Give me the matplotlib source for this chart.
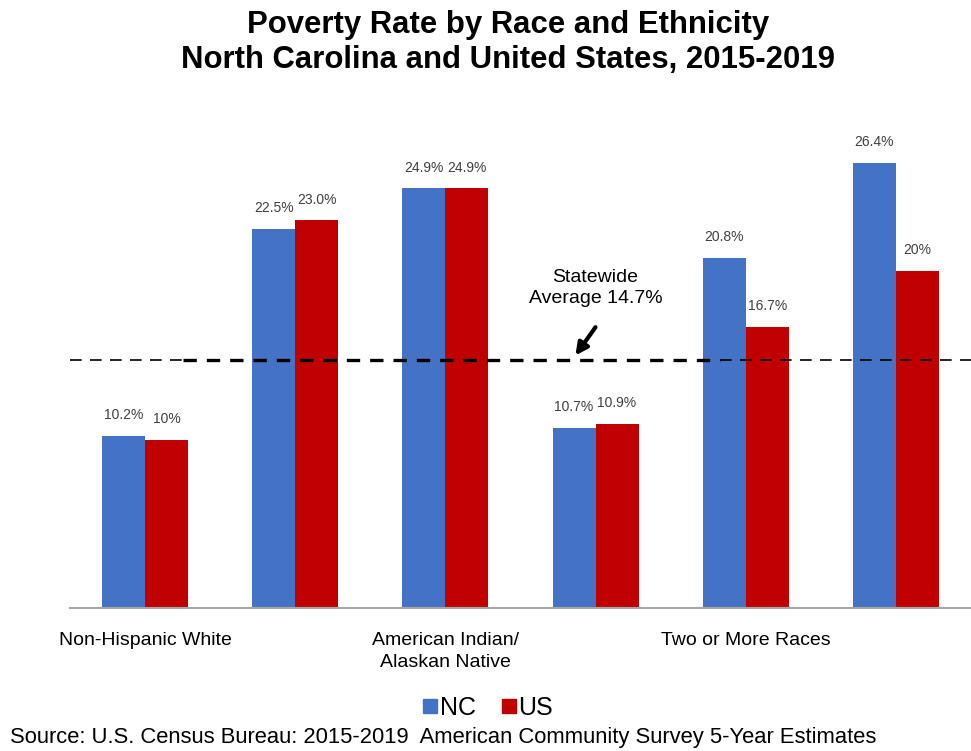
import numpy as np
import matplotlib.pyplot as plt
from matplotlib.lines import Line2D

plt.rcParams['font.family'] = ['Liberation Sans', 'DejaVu Sans']

categories = [
    "Non-Hispanic White",
    "Black",
    "American Indian/\nAlaskan Native",
    "Asian",
    "Two or More Races",
    "Hispanic",
]
nc_rate = [10.2, 22.5, 24.9, 10.7, 20.8, 26.4]
us_rate = [10.0, 23.0, 24.9, 10.9, 16.7, 20.0]
nc_labels = ["10.2%", "22.5%", "24.9%", "10.7%", "20.8%", "26.4%"]
us_labels = ["10%", "23.0%", "24.9%", "10.9%", "16.7%", "20%"]
state_avg = 14.7

nc_color = "#4472C4"
us_color = "#C00000"
label_color = "#404040"

fig = plt.figure(figsize=(9.71, 7.51), dpi=100)
ax = fig.add_axes([70 / 971, 143 / 751, 1 - 70 / 971, 471.8 / 751])

x = np.arange(len(categories))
w = 0.286
ax.bar(x - w / 2, nc_rate, w, color=nc_color)
ax.bar(x + w / 2, us_rate, w, color=us_color)

for xi, v, s in zip(x - w / 2, nc_rate, nc_labels):
    ax.annotate(s, (xi, v), xytext=(0, 10), textcoords="offset points",
                ha="center", va="bottom", fontsize=10, color=label_color)
for xi, v, s in zip(x + w / 2, us_rate, us_labels):
    ax.annotate(s, (xi, v), xytext=(0, 10), textcoords="offset points",
                ha="center", va="bottom", fontsize=10, color=label_color)

# statewide average line: heavier through the middle groups
ax.plot([-0.5, 0.25], [state_avg, state_avg], color="black", lw=1.2,
        dashes=(7, 5))
ax.plot([0.25, 3.83], [state_avg, state_avg], color="black", lw=2.4,
        dashes=(4, 3))
ax.plot([3.83, 5.5], [state_avg, state_avg], color="black", lw=1.2,
        dashes=(7, 5))

ax.annotate("", xy=(2.855, state_avg + 0.15), xytext=(3.01, 16.8),
            arrowprops=dict(arrowstyle="-|>", color="black", lw=3,
                            mutation_scale=18))
ax.text(3.0, 19.0, "Statewide\nAverage 14.7%", ha="center", va="center",
        fontsize=14, color="black", linespacing=1.3)

ax.set_xlim(-0.5, 5.5)
ax.set_ylim(0, 28)
ax.set_xticks(x[::2])
ax.set_xticklabels(categories[::2], fontsize=14, color="black",
                   linespacing=1.45)
ax.tick_params(axis="x", length=0, pad=17)
ax.set_yticks([])
for side in ["top", "right", "left"]:
    ax.spines[side].set_visible(False)
ax.spines["bottom"].set_color("#a6a6a6")
ax.spines["bottom"].set_linewidth(1.5)

fig.text(508 / 971, 1 - 25 / 751, "Poverty Rate by Race and Ethnicity",
         ha="center", va="center", fontsize=22.4, fontweight="bold")
fig.text(508 / 971, 1 - 60 / 751, "North Carolina and United States, 2015-2019",
         ha="center", va="center", fontsize=22.4, fontweight="bold")

handles = [
    Line2D([], [], marker="s", ls="none", color=nc_color, markersize=10),
    Line2D([], [], marker="s", ls="none", color=us_color, markersize=10),
]
fig.legend(handles, ["NC", "US"], loc="center", bbox_to_anchor=(488 / 971, 1 - 708 / 751),
           ncol=2, frameon=False, fontsize=18, handlelength=0.6,
           handletextpad=0.1, columnspacing=1.0)

fig.text(10 / 971, 1 - 738 / 751,
         "Source: U.S. Census Bureau: 2015-2019  American Community Survey 5-Year Estimates",
         ha="left", va="center", fontsize=15.8)

fig.savefig("out.png", dpi=100)
